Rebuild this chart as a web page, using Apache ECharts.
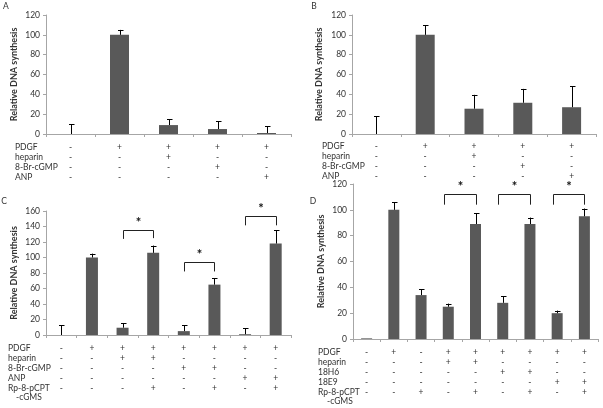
<!DOCTYPE html>
<html><head><meta charset="utf-8">
<script src="https://cdn.jsdelivr.net/npm/echarts@6/dist/echarts.min.js"></script>
<style>html,body{margin:0;padding:0;background:#fff}#main{width:603px;height:408px}</style>
</head><body><div id="main"></div>
<script>
// ---------- data ----------
const yTitle = 'Relative DNA synthesis';
const ticksAB = [0, 20, 40, 60, 80, 100, 120];
const ticksC = [0, 20, 40, 60, 80, 100, 120, 140, 160];

const valuesA = [0, 100, 9, 5, 1];
const errorsA = [10, 5, 6, 8, 7];
const rowLabelsA = ['PDGF', 'heparin', '8-Br-cGMP', 'ANP'];
const signsA = [
  ['-', '+', '+', '+', '+'],
  ['-', '-', '+', '-', '-'],
  ['-', '-', '-', '+', '-'],
  ['-', '-', '-', '-', '+']
];

const valuesB = [0, 100, 25.5, 31.5, 27];
const errorsB = [18, 9.5, 14, 14, 21];
const rowLabelsB = ['PDGF', 'heparin', '8-Br-cGMP', 'ANP'];
const signsB = signsA;

const valuesC = [0, 100, 9.4, 106, 5, 65, 1, 118];
const errorsC = [12.4, 5, 6, 9.4, 7.9, 8, 7.6, 17];
const rowLabelsC = ['PDGF', 'heparin', '8-Br-cGMP', 'ANP', 'Rp-8-pCPT'];
const signsC = [
  ['-', '+', '+', '+', '+', '+', '+', '+'],
  ['-', '-', '+', '+', '-', '-', '-', '-'],
  ['-', '-', '-', '-', '+', '+', '-', '-'],
  ['-', '-', '-', '-', '-', '-', '+', '+'],
  ['-', '-', '-', '+', '-', '+', '-', '+']
];
// [from, to, top, leftBottom, rightBottom]
const bracketsC = [[2, 3, 136, 124, 125], [4, 5, 94, 82, 82], [6, 7, 153.6, 141.5, 141.5]];

const valuesD = [0.5, 100, 34, 25, 89, 28, 89, 20, 95];
const errorsD = [0, 6, 4.5, 2.4, 8.4, 5, 5, 2, 6];
const rowLabelsD = ['PDGF', 'heparin', '18H6', '18E9', 'Rp-8-pCPT'];
const signsD = [
  ['-', '+', '-', '+', '+', '+', '+', '+', '+'],
  ['-', '-', '-', '+', '+', '-', '-', '-', '-'],
  ['-', '-', '-', '-', '-', '+', '+', '-', '-'],
  ['-', '-', '-', '-', '-', '-', '-', '+', '+'],
  ['-', '-', '+', '-', '+', '-', '+', '-', '+']
];
const bracketsD = [[3, 4, 112, 104, 104], [5, 6, 112, 104, 104], [7, 8, 112, 104, 104]];

// ---------- layout / styles ----------
const FONT = 'Lato';
const TXT = '#333';
const AX = '#a6a6a6';
const BAR = '#595959';
const ROWFS = 8.5;

const grids = [], xAxes = [], yAxes = [], series = [], graphics = [];

function addPanel(p) {
  const gi = grids.length;
  grids.push({ left: p.left, top: p.top, width: p.width, height: p.height });
  const cats = p.values.map((_, i) => String(i));
  const xi = xAxes.length;
  xAxes.push({
    type: 'category', gridIndex: gi, data: cats,
    axisLine: { lineStyle: { color: AX } },
    axisTick: { show: true, length: 3, lineStyle: { color: AX } },
    axisLabel: { show: false }
  });
  p.signs.forEach((row, r) => {
    xAxes.push({
      type: 'category', gridIndex: gi, data: cats, position: 'bottom',
      axisLine: { show: false }, axisTick: { show: false }, splitLine: { show: false },
      axisLabel: {
        interval: 0, margin: p.rowY[r] - (p.top + p.height), verticalAlign: 'middle',
        fontSize: ROWFS, color: TXT, fontFamily: FONT,
        formatter: (v, idx) => row[idx]
      }
    });
  });
  yAxes.push({
    type: 'value', gridIndex: gi, min: 0, max: p.ticks[p.ticks.length - 1], interval: p.ticks[1] - p.ticks[0],
    name: yTitle, nameLocation: 'middle', nameGap: p.nameGap,
    nameTextStyle: { fontSize: 9, fontWeight: 'bold', color: TXT, fontFamily: FONT },
    axisLine: { show: true, lineStyle: { color: AX } },
    axisTick: { show: true, length: 3, lineStyle: { color: AX } },
    splitLine: { show: false },
    axisLabel: { fontSize: 8.5, color: TXT, margin: 6, fontFamily: FONT }
  });
  series.push({
    type: 'bar', xAxisIndex: xi, yAxisIndex: gi, data: p.values,
    barWidth: p.barWidth, itemStyle: { color: BAR }, silent: true
  });
  series.push({
    type: 'custom', xAxisIndex: xi, yAxisIndex: gi, z: 5, silent: true,
    data: p.values.map((v, i) => [i, v, p.errors[i]]),
    encode: { x: 0, y: 1 },
    renderItem: (params, api) => {
      const x = api.value(0), v = api.value(1), e = api.value(2);
      if (!e) return null;
      const b = api.coord([x, v]);
      const t = api.coord([x, v + e]);
      const cx = Math.round(b[0]) + 0.5;
      return {
        type: 'group', children: [
          { type: 'line', shape: { x1: cx, y1: b[1], x2: cx, y2: t[1] }, style: { stroke: '#000', lineWidth: 1 } },
          { type: 'line', shape: { x1: cx - 2.5, y1: Math.round(t[1]) + 0.5, x2: cx + 3, y2: Math.round(t[1]) + 0.5 }, style: { stroke: '#000', lineWidth: 1 } }
        ]
      };
    }
  });
  if (p.brackets) {
    series.push({
      type: 'custom', xAxisIndex: xi, yAxisIndex: gi, z: 6, silent: true,
      data: p.brackets,
      encode: { x: [0, 1], y: [2, 3, 4] },
      renderItem: (params, api) => {
        const bw = api.size([1, 0])[0];
        const a = api.value(0), b = api.value(1);
        const top = api.value(2), lb = api.value(3), rb = api.value(4);
        const pl = api.coord([a, lb]), pr = api.coord([b, rb]);
        const pt = api.coord([a, top]);
        const xl = Math.round(pl[0] - p.leftShift * bw) + 0.5, xr = Math.round(pr[0]) + 0.5;
        const yt = Math.round(pt[1]) + 0.5;
        return {
          type: 'group', children: [
            { type: 'polyline', shape: { points: [[xl, pl[1]], [xl, yt], [xr, yt], [xr, pr[1]]] }, style: { stroke: '#222', lineWidth: 1, fill: null } },
            { type: 'text', style: { text: '*', x: (xl + xr) / 2, y: yt - 1, align: 'center', verticalAlign: 'bottom', fontSize: 13, fontWeight: 'bold', fill: '#111', fontFamily: FONT } }
          ]
        };
      }
    });
  }
  graphics.push({ type: 'text', x: p.letter[1], y: p.letter[2], style: { text: p.letter[0], fontSize: 8.5, fill: TXT, fontFamily: FONT, verticalAlign: 'middle', align: 'center' } });
  p.rowLabels.forEach((lab, r) => {
    graphics.push({ type: 'text', x: p.labelX, y: p.rowY[r], style: { text: lab, fontSize: ROWFS, fill: TXT, fontFamily: FONT, verticalAlign: 'middle' } });
  });
  if (p.extraLabel) {
    graphics.push({ type: 'text', x: p.extraLabel[1], y: p.extraLabel[2], style: { text: p.extraLabel[0], fontSize: ROWFS, fill: TXT, fontFamily: FONT, verticalAlign: 'middle' } });
  }
}

addPanel({ left: 46, top: 15, width: 245, height: 119, ticks: ticksAB, values: valuesA, errors: errorsA,
  signs: signsA, rowLabels: rowLabelsA, rowY: [147, 157, 167, 177], labelX: 15, barWidth: 19,
  nameGap: 27, letter: ['A', 6, 6] });
addPanel({ left: 352, top: 15, width: 244, height: 119, ticks: ticksAB, values: valuesB, errors: errorsB,
  signs: signsB, rowLabels: rowLabelsB, rowY: [146, 156, 166, 176], labelX: 322, barWidth: 19,
  nameGap: 28, letter: ['B', 314, 6] });
addPanel({ left: 46, top: 211, width: 245, height: 124, ticks: ticksC, values: valuesC, errors: errorsC,
  signs: signsC, rowLabels: rowLabelsC, rowY: [348, 358, 368, 378, 388], labelX: 8, barWidth: 12,
  nameGap: 27, letter: ['C', 4, 201], brackets: bracketsC, leftShift: 0, extraLabel: ['-cGMS', 16, 397] });
addPanel({ left: 353, top: 184, width: 245, height: 155, ticks: ticksAB, values: valuesD, errors: errorsD,
  signs: signsD, rowLabels: rowLabelsD, rowY: [352, 362, 372, 382, 392], labelX: 318, barWidth: 11,
  nameGap: 27, letter: ['D', 313, 201], brackets: bracketsD, leftShift: 0.17, extraLabel: ['-cGMS', 327, 401] });

const chart = echarts.init(document.getElementById('main'), null, { renderer: 'canvas' });
chart.setOption({
  backgroundColor: '#fff',
  animation: false,
  grid: grids, xAxis: xAxes, yAxis: yAxes, series: series,
  graphic: { elements: graphics }
});
</script>
</body></html>
